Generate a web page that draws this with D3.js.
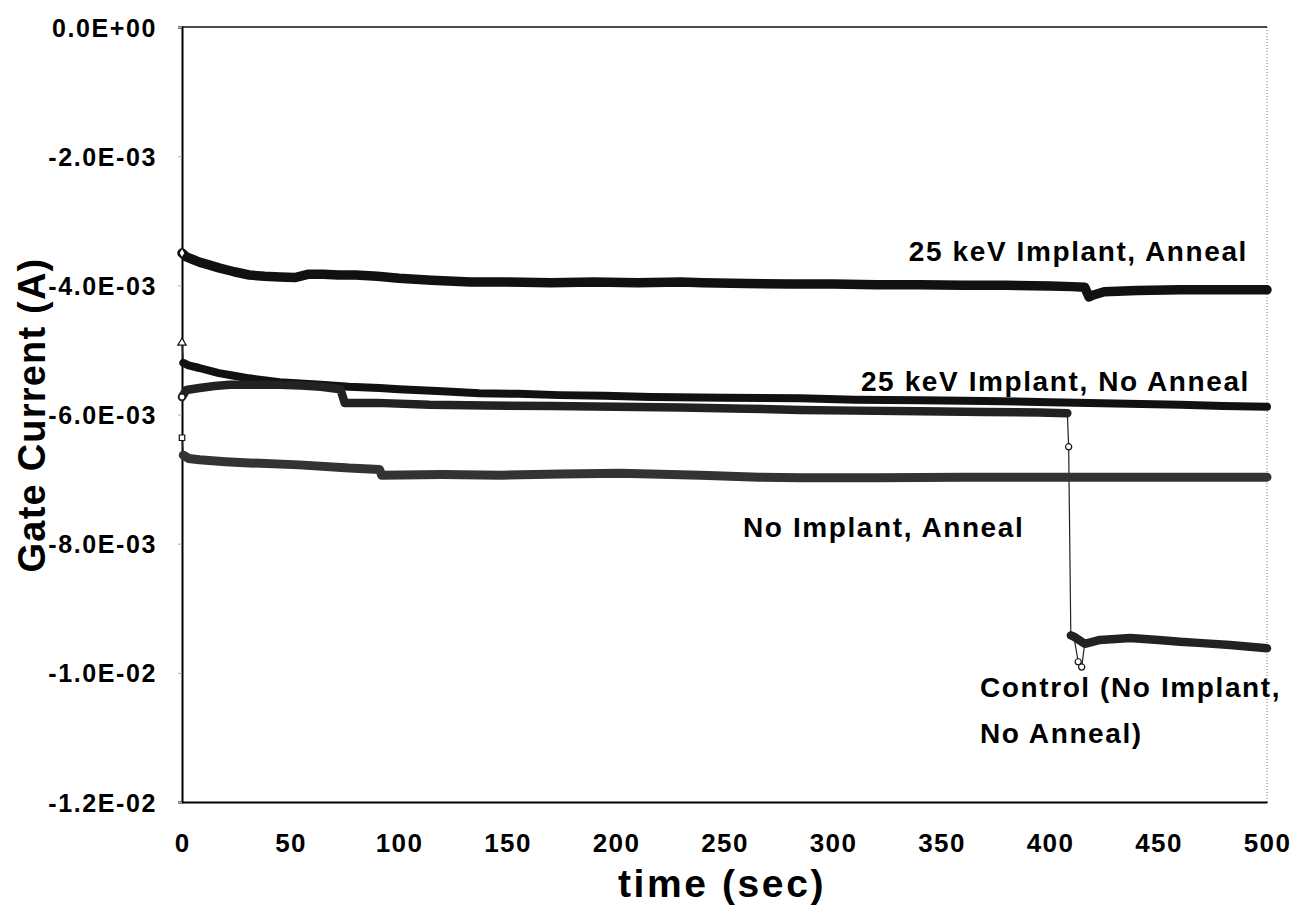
<!DOCTYPE html>
<html>
<head>
<meta charset="utf-8">
<script src="https://cdn.jsdelivr.net/npm/d3@7"></script>
<style>
  html, body { margin: 0; padding: 0; background: #fff; }
  svg { display: block; }
  text { font-family: "Liberation Sans", Arial, Helvetica, sans-serif; font-weight: bold; fill: #000; }
</style>
</head>
<body>
<svg id="chart" width="1292" height="905"></svg>
<script>
// Gate current (A) versus stress time (s) for four wafer treatments.

const xTicks = [0, 50, 100, 150, 200, 250, 300, 350, 400, 450, 500];
const yTicks = [0, -0.002, -0.004, -0.006, -0.008, -0.010, -0.012];
const yTickLabels = ["0.0E+00", "-2.0E-03", "-4.0E-03", "-6.0E-03", "-8.0E-03", "-1.0E-02", "-1.2E-02"];

// 25 keV Implant, Anneal
const implantAnnealT = [0, 2, 5, 8, 12, 17, 24, 31, 38, 45, 52, 58, 65, 72, 80, 90, 100, 115, 133, 150, 170, 190, 210, 230, 240, 260, 280, 300, 320, 340, 360, 380, 400, 410, 416, 418, 420, 425, 440, 460, 480, 500];
const implantAnnealI = [-3.50e-3, -3.56e-3, -3.60e-3, -3.64e-3, -3.68e-3, -3.73e-3, -3.79e-3, -3.84e-3, -3.86e-3, -3.87e-3, -3.88e-3, -3.83e-3, -3.83e-3, -3.84e-3, -3.84e-3, -3.86e-3, -3.89e-3, -3.92e-3, -3.95e-3, -3.95e-3, -3.96e-3, -3.95e-3, -3.96e-3, -3.95e-3, -3.96e-3, -3.97e-3, -3.98e-3, -3.98e-3, -3.99e-3, -3.99e-3, -4.00e-3, -4.00e-3, -4.01e-3, -4.02e-3, -4.03e-3, -4.18e-3, -4.15e-3, -4.10e-3, -4.08e-3, -4.07e-3, -4.07e-3, -4.07e-3];

// 25 keV Implant, No Anneal
const implantNoAnnealT = [0, 0.6, 3, 8, 17, 24, 31, 45, 64, 77, 91, 100, 120, 137, 155, 174, 195, 216, 250, 285, 310, 340, 370, 400, 430, 460, 480, 500];
const implantNoAnnealI = [-4.89e-3, -5.20e-3, -5.24e-3, -5.28e-3, -5.36e-3, -5.40e-3, -5.44e-3, -5.50e-3, -5.54e-3, -5.57e-3, -5.59e-3, -5.61e-3, -5.64e-3, -5.67e-3, -5.68e-3, -5.70e-3, -5.71e-3, -5.73e-3, -5.74e-3, -5.75e-3, -5.77e-3, -5.78e-3, -5.79e-3, -5.81e-3, -5.83e-3, -5.85e-3, -5.87e-3, -5.88e-3];

// Control (No Implant, No Anneal)
const controlT = [0, 2, 8, 15, 22, 30, 45, 55, 64, 73, 75, 90, 114, 140, 170, 200, 230, 260, 285, 310, 340, 370, 395, 408, 408.6, 409.6, 411, 413, 414.6, 416, 423, 437, 450, 460, 470, 483, 500];
const controlI = [-5.73e-3, -5.62e-3, -5.59e-3, -5.56e-3, -5.54e-3, -5.54e-3, -5.54e-3, -5.55e-3, -5.57e-3, -5.61e-3, -5.82e-3, -5.82e-3, -5.85e-3, -5.86e-3, -5.87e-3, -5.88e-3, -5.89e-3, -5.91e-3, -5.93e-3, -5.94e-3, -5.95e-3, -5.96e-3, -5.97e-3, -5.98e-3, -6.50e-3, -9.42e-3, -9.44e-3, -9.83e-3, -9.91e-3, -9.55e-3, -9.49e-3, -9.46e-3, -9.49e-3, -9.52e-3, -9.54e-3, -9.57e-3, -9.62e-3];

// No Implant, Anneal
const noImplantAnnealT = [0, 0.6, 3, 8, 20, 31, 54, 77, 91, 92, 120, 147, 175, 202, 239, 266, 285, 320, 360, 400, 450, 500];
const noImplantAnnealI = [-6.36e-3, -6.63e-3, -6.68e-3, -6.70e-3, -6.73e-3, -6.75e-3, -6.78e-3, -6.83e-3, -6.85e-3, -6.94e-3, -6.93e-3, -6.94e-3, -6.92e-3, -6.91e-3, -6.94e-3, -6.97e-3, -6.98e-3, -6.98e-3, -6.97e-3, -6.97e-3, -6.97e-3, -6.97e-3];

const seriesNames = ["25 keV Implant, Anneal", "25 keV Implant, No Anneal", "Control (No Implant, No Anneal)", "No Implant, Anneal"];

const series = [
  { name: seriesNames[0], t: implantAnnealT, i: implantAnnealI, symbol: d3.symbolDiamond, band: "#111", width: 9.5 },
  { name: seriesNames[1], t: implantNoAnnealT, i: implantNoAnnealI, symbol: d3.symbolTriangle, band: "#111", width: 8 },
  { name: seriesNames[2], t: controlT, i: controlI, symbol: d3.symbolCircle, band: "#222", width: 8.5 },
  { name: seriesNames[3], t: noImplantAnnealT, i: noImplantAnnealI, symbol: d3.symbolSquare, band: "#333", width: 9 }
];

const svg = d3.select("#chart");
const plot = { left: 182, right: 1267, top: 27, bottom: 802 };

const x = d3.scaleLinear().domain([0, 500]).range([plot.left, plot.right]);
const y = d3.scaleLinear().domain([-0.012, 0]).range([plot.bottom, plot.top]);

// frame: solid top/left/bottom, dotted right edge
svg.append("line").attr("x1", plot.right).attr("x2", plot.right).attr("y1", plot.top).attr("y2", plot.bottom)
  .attr("stroke", "#777").attr("stroke-width", 1).attr("stroke-dasharray", "1,2");
svg.append("line").attr("x1", plot.left).attr("x2", plot.right).attr("y1", plot.top).attr("y2", plot.top)
  .attr("stroke", "#111").attr("stroke-width", 1.5);

// axes
const yAxis = d3.axisLeft(y).tickValues(yTicks).tickSize(4).tickFormat((d, k) => yTickLabels[k]);
const gy = svg.append("g").attr("transform", `translate(${plot.left},0)`).call(yAxis);
gy.select(".domain").attr("stroke", "#000").attr("stroke-width", 2);
gy.selectAll(".tick line").attr("stroke", "#aaa");
gy.selectAll(".tick text").attr("x", -25).attr("dy", "0.36em")
  .style("font-size", "25px").style("letter-spacing", "1.6px")
  .style("font-family", "'Liberation Sans', Arial, sans-serif").style("font-weight", "bold").attr("fill", "#000");

const xAxis = d3.axisBottom(x).tickValues(xTicks).tickSize(0).tickFormat(d3.format("d"));
const gx = svg.append("g").attr("transform", `translate(0,${plot.bottom})`).call(xAxis);
gx.select(".domain").attr("stroke", "#000").attr("stroke-width", 2);
gx.selectAll(".tick text").attr("y", 0).attr("dy", "50px")
  .style("font-size", "26px").style("letter-spacing", "1.3px")
  .style("font-family", "'Liberation Sans', Arial, sans-serif").style("font-weight", "bold").attr("fill", "#000");

// axis titles
svg.append("text").attr("x", 722).attr("y", 897).attr("text-anchor", "middle")
  .style("font-size", "39px").style("letter-spacing", "2.6px").text("time (sec)");
svg.append("text").attr("transform", "translate(45,415) rotate(-90)").attr("text-anchor", "middle")
  .style("font-size", "38px").style("letter-spacing", "1.2px").text("Gate Current (A)");

// steady bands: samples far from the local median are transients and are skipped;
// a new band starts wherever consecutive steady samples jump
function bandRuns(pts) {
  const keep = pts.map((p, k) => {
    const win = pts.slice(Math.max(0, k - 2), Math.min(pts.length, k + 3)).map(q => q.i);
    return Math.abs(p.i - d3.median(win)) <= 0.25e-3;
  });
  const runs = [];
  let cur = [];
  pts.forEach((p, k) => {
    if (!keep[k]) return;
    if (cur.length && Math.abs(p.i - cur[cur.length - 1].i) > 0.25e-3) { runs.push(cur); cur = []; }
    cur.push(p);
  });
  if (cur.length) runs.push(cur);
  return runs.filter(r => r.length >= 2);
}

const line = d3.line().x(p => x(p.t)).y(p => y(p.i)).curve(d3.curveLinear);

const gData = svg.append("g");
series.forEach(s => {
  const pts = s.t.map((t, k) => ({ t, i: s.i[k] }));
  const runs = bandRuns(pts);
  const inBand = new Set(runs.flat());
  // thin connecting trace through every sample
  gData.append("path").attr("d", line(pts)).attr("fill", "none")
    .attr("stroke", "#222").attr("stroke-width", 1.2);
  // dense overlapping markers form a heavy band
  runs.forEach(run => {
    gData.append("path").attr("d", line(run)).attr("fill", "none")
      .attr("stroke", s.band).attr("stroke-width", s.width)
      .attr("stroke-linejoin", "round").attr("stroke-linecap", "round");
  });
  // open markers where a sample stands apart from the band
  const loose = pts.filter((p, k) => k === 0 || !inBand.has(p));
  gData.selectAll(null).data(loose).join("path")
    .attr("transform", p => `translate(${x(p.t)},${y(p.i)})`)
    .attr("d", d3.symbol().type(s.symbol).size(30))
    .attr("fill", "#fff").attr("stroke", "#111").attr("stroke-width", 1.2);
});

// series annotations
const notes = [
  { lines: ["25 keV Implant, Anneal"], x: 1248, y: 261, anchor: "end" },
  { lines: ["25 keV Implant, No Anneal"], x: 1250, y: 391, anchor: "end" },
  { lines: ["No Implant, Anneal"], x: 743, y: 537, anchor: "start" },
  { lines: ["Control (No Implant,", "No Anneal)"], x: 980, y: 697, anchor: "start" }
];
notes.forEach(n => {
  const t = svg.append("text").attr("x", n.x).attr("y", n.y).attr("text-anchor", n.anchor)
    .style("font-size", "28px").style("letter-spacing", "1.6px");
  n.lines.forEach((l, k) => t.append("tspan").attr("x", n.x).attr("dy", k ? 46 : 0).text(l));
});
</script>
</body>
</html>
